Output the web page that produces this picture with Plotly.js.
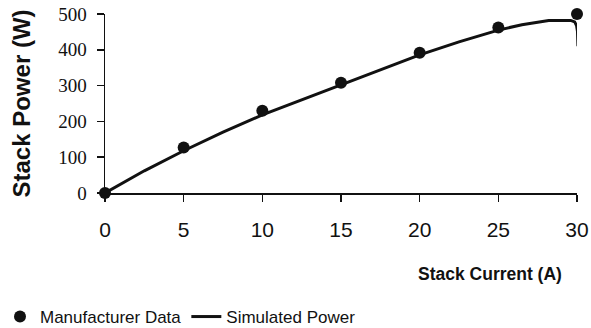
<!DOCTYPE html>
<html>
<head>
<meta charset="utf-8">
<script src="https://cdn.plot.ly/plotly-3.0.1.min.js"></script>
<style>html,body{margin:0;padding:0;background:#fff;}#chart{width:591px;height:328px;}</style>
</head>
<body>
<div id="chart"></div>
<script>
// Manufacturer data points
const dataCurrent = [0, 5, 10, 15, 20, 25, 30];
const dataPower = [0, 127, 230, 308, 392, 462, 500];

// Simulated power curve
const simCurrent = [0, 2.5, 5, 7.5, 10, 12.5, 15, 17.5, 20, 22.5, 25, 26.5, 27.5, 28.2, 29.0, 29.6, 29.85, 29.97, 30.03, 30.06, 30.06];
const simPower   = [0, 62, 118, 170, 218, 260, 301, 344, 386, 422, 455, 470, 478, 482, 482, 482, 478, 468, 452, 432, 410];

const xTicks = [0, 5, 10, 15, 20, 25, 30];
const yTicks = [0, 100, 200, 300, 400, 500];

const traces = [
  {
    x: simCurrent, y: simPower, mode: 'lines', name: 'Simulated Power',
    line: {color: '#111', width: 3}, legendrank: 2, cliponaxis: false
  },
  {
    x: dataCurrent, y: dataPower, mode: 'markers', name: 'Manufacturer Data',
    marker: {color: '#111', size: 12, symbol: 'circle'}, legendrank: 1, cliponaxis: false
  }
];

const layout = {
  width: 591, height: 328,
  margin: {l: 105, r: 14, t: 14, b: 135},
  paper_bgcolor: '#fff', plot_bgcolor: '#fff',
  showlegend: true,
  legend: {
    orientation: 'h', xref: 'container', yref: 'container',
    x: 0, xanchor: 'left', y: 11 / 328, yanchor: 'middle',
    font: {family: 'Liberation Sans, Arial, sans-serif', size: 17, color: '#111'},
    itemwidth: 30, tracegroupgap: 0
  },
  xaxis: {
    range: [0, 30], tickvals: xTicks, ticktext: xTicks.map(String),
    showgrid: false, zeroline: false, showline: true, linecolor: '#111', linewidth: 1.5,
    ticks: 'outside', ticklen: 7, tickwidth: 1.5, tickcolor: '#111',
    tickfont: {family: 'Liberation Sans, Arial, sans-serif', size: 21, color: '#111'},
    ticklabelstandoff: 10
  },
  yaxis: {
    range: [0, 500], tickvals: yTicks, ticktext: yTicks.map(String),
    showgrid: false, zeroline: false, showline: true, linecolor: '#111', linewidth: 1.5,
    ticks: 'outside', ticklen: 7, tickwidth: 1.5, tickcolor: '#111',
    tickfont: {family: 'Liberation Serif, Times New Roman, DejaVu Serif', size: 19, color: '#111'},
    ticklabelstandoff: 6,
    title: {text: 'Stack Power (W)', standoff: 21,
      font: {family: 'Liberation Sans, Arial, sans-serif', size: 24, color: '#111', weight: 'bold'}}
  },
  annotations: [
    {text: '<b>Stack Current (A)</b>', xref: 'paper', yref: 'paper',
     x: (490 - 105) / 472, y: (193 - 274) / 179, xanchor: 'center', yanchor: 'middle',
     showarrow: false,
     font: {family: 'Liberation Sans, Arial, sans-serif', size: 17.5, color: '#111'}}
  ]
};

Plotly.newPlot('chart', traces, layout, {staticPlot: true, displayModeBar: false});
</script>
</body>
</html>
